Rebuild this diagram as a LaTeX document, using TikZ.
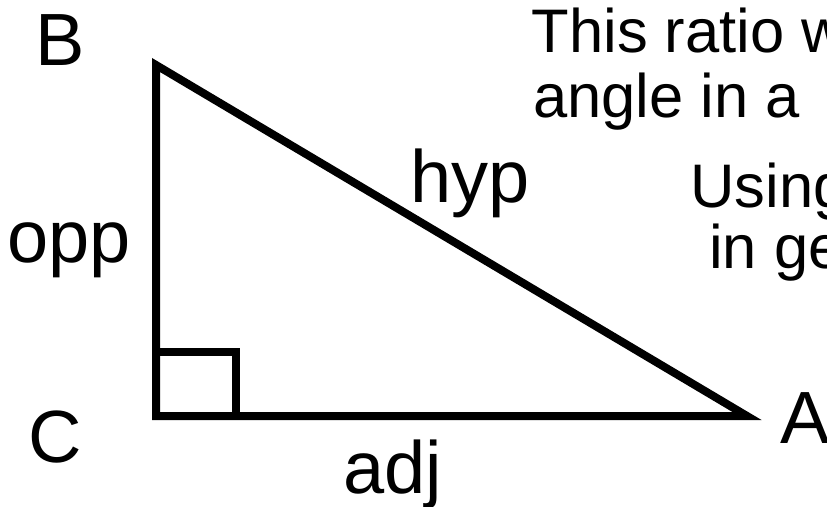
\documentclass[tikz,border=0pt]{standalone}
\usepackage{fontspec}
\setmainfont{Liberation Sans}
\begin{document}
\begin{tikzpicture}[x=1pt,y=-1pt,
  edge/.style={line width=8pt, line join=miter, black},
  vlabel/.style={font=\fontsize{74}{74}\selectfont, inner sep=0pt, anchor=base west},
  para/.style={font=\fontsize{61.5}{61.5}\selectfont, inner sep=0pt, anchor=base west}]
  \clip (0,0) rectangle (827,506);
  \coordinate (C) at (156,416);
  \coordinate (B) at (156,65);
  \coordinate (A) at (747,416);
  \coordinate (S) at (236,352);
  \draw[edge] (C) -- (B) -- (A) -- cycle;
  \draw[edge] (C) rectangle (S);
  \node[vlabel] (lB) at (35,65) {B};
  \node[vlabel] (lC) at (28,462) {C};
  \node[vlabel] (lA) at (780,443) {A};
  \node[vlabel] (opp) at (7.5,262) {opp};
  \node[vlabel] (hyp) at (410,202) {hyp};
  \node[vlabel] (adj) at (343,493) {adj};
  \node[para] (t1) at (531.5,52) {This ratio w};
  \node[para] (t2) at (533,117) {angle in a};
  \node[para] (t3) at (690,207) {Using};
  \node[para] (t4) at (709,268) {in ge};
\end{tikzpicture}
\end{document}
